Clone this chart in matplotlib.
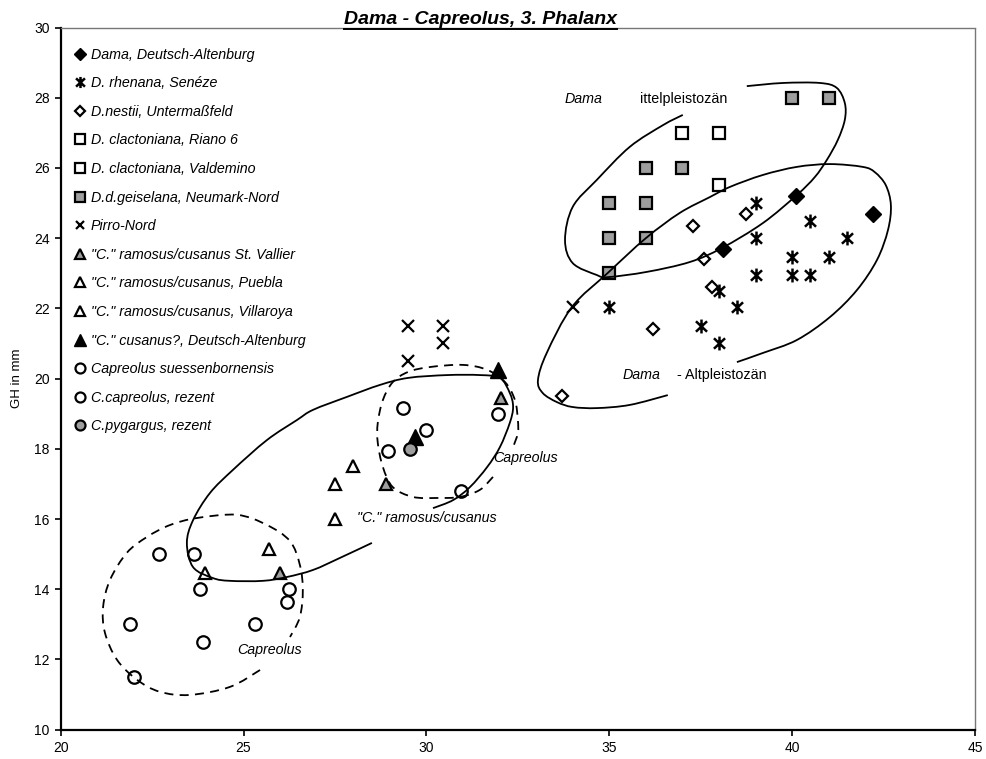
import numpy as np
import matplotlib
matplotlib.use("Agg")
import matplotlib.pyplot as plt
from matplotlib.path import Path
from matplotlib.patches import PathPatch
from matplotlib.lines import Line2D

plt.rcParams['font.family'] = ['Liberation Sans', 'DejaVu Sans']

# ---------------- data ----------------
dama_da_x = [40.1, 38.1, 42.2]
dama_da_y = [25.2, 23.7, 24.7]
rhenana_x = [39.0, 40.5, 41.5, 39.0, 40.0, 41.0, 39.0, 40.0, 40.5, 38.0, 35.0, 38.5, 37.5, 38.0]
rhenana_y = [25.0, 24.5, 24.0, 24.0, 23.45, 23.45, 22.95, 22.95, 22.95, 22.5, 22.05, 22.05, 21.5, 21.0]
nestii_x = [38.75, 37.3, 37.6, 37.8, 36.2, 33.7]
nestii_y = [24.7, 24.35, 23.4, 22.6, 21.4, 19.5]
riano_x = [37, 38]
riano_y = [27, 27]
valdemino_x = [38]
valdemino_y = [25.5]
geiselana_x = [40, 41, 36, 37, 35, 36, 35, 36, 35]
geiselana_y = [28, 28, 26, 26, 25, 25, 24, 24, 23]
pirro_x = [29.5, 30.45, 30.45, 29.5, 34.0]
pirro_y = [21.5, 21.5, 21.0, 20.5, 22.05]
stvallier_x = [32.05, 28.9, 26.0]
stvallier_y = [19.45, 17.0, 14.45]
puebla_x = [28.0, 27.5, 27.5]
puebla_y = [17.5, 17.0, 16.0]
villaroya_x = [25.7, 23.95]
villaroya_y = [15.15, 14.45]
cusanus_x = [31.95, 29.7]
cusanus_y = [20.25, 18.35]
suess_x = [29.35, 30.0, 28.95, 31.95, 30.95]
suess_y = [19.15, 18.55, 17.95, 19.0, 16.8]
capreolus_x = [22.7, 23.65, 23.8, 26.25, 26.2, 21.9, 25.3, 23.9, 22.0]
capreolus_y = [15.0, 15.0, 14.0, 14.0, 13.65, 13.0, 13.0, 12.5, 11.5]
pygargus_x = [29.55]
pygargus_y = [18.0]

legend_labels = ["Dama, Deutsch-Altenburg", "D. rhenana, Senéze", "D.nestii, Untermaßfeld",
                 "D. clactoniana, Riano 6", "D. clactoniana, Valdemino",
                 "D.d.geiselana, Neumark-Nord", "Pirro-Nord",
                 "\"C.\" ramosus/cusanus St. Vallier", "\"C.\" ramosus/cusanus, Puebla",
                 "\"C.\" ramosus/cusanus, Villaroya", "\"C.\" cusanus?, Deutsch-Altenburg",
                 "Capreolus suessenbornensis", "C.capreolus, rezent", "C.pygargus, rezent"]

# hand-drawn group outlines (data coordinates)
mittel_outline = [(37.01, 27.51), (36.47, 27.22), (35.56, 26.60), (34.66, 25.66), (34.00, 24.89),
                  (33.79, 23.95), (34.00, 23.29), (34.66, 22.95), (34.96, 22.89), (36.03, 23.04),
                  (37.20, 23.32), (38.08, 23.72), (39.20, 24.43), (40.13, 25.23), (40.62, 25.74),
                  (40.95, 26.23), (41.25, 26.80), (41.44, 27.37), (41.44, 27.85), (41.22, 28.28),
                  (40.76, 28.42), (39.75, 28.42), (38.76, 28.33)]
alt_outline = [(38.49, 20.47), (39.20, 20.73), (40.13, 21.10), (41.03, 21.75), (41.77, 22.52),
               (42.32, 23.38), (42.62, 24.23), (42.70, 24.94), (42.56, 25.51), (42.26, 25.88),
               (41.93, 26.03), (41.03, 26.11), (40.13, 26.03), (39.20, 25.80), (38.30, 25.46),
               (37.75, 25.17), (36.93, 24.72), (36.00, 24.00), (34.96, 23.01), (33.98, 22.04),
               (33.29, 20.73), (33.05, 19.96), (33.18, 19.59), (33.57, 19.33), (34.00, 19.19),
               (34.66, 19.16), (35.56, 19.25), (36.60, 19.53)]
ramosus_outline = [(30.18, 16.31), (30.73, 16.54), (31.19, 16.91), (31.66, 17.48), (32.01, 18.05),
                   (32.28, 18.74), (32.37, 19.19), (32.28, 19.59), (32.01, 20.02), (31.47, 20.10),
                   (30.56, 20.10), (29.50, 20.02), (28.73, 19.82), (27.83, 19.48), (26.90, 19.11),
                   (26.46, 18.82), (25.64, 18.25), (24.71, 17.40), (24.08, 16.74), (23.62, 15.97),
                   (23.45, 15.32), (23.62, 14.63), (24.16, 14.32), (24.63, 14.24), (25.53, 14.24),
                   (26.19, 14.35), (26.90, 14.55), (27.63, 14.89), (28.51, 15.32)]
capreolus_up_outline = [(31.82, 17.20), (31.46, 16.83), (30.92, 16.63), (30.29, 16.60), (29.63, 16.63),
                        (29.08, 16.91), (28.81, 17.48), (28.67, 18.17), (28.67, 18.74), (28.81, 19.39),
                        (29.08, 19.90), (29.50, 20.19), (30.10, 20.33), (31.00, 20.39), (31.66, 20.25),
                        (32.15, 19.90), (32.42, 19.39), (32.50, 18.82), (32.50, 18.45), (32.37, 18.05)]
capreolus_low_outline = [(25.45, 11.70), (24.63, 11.22), (23.53, 10.99), (22.71, 11.08), (22.09, 11.42),
                         (21.54, 11.99), (21.21, 12.76), (21.16, 13.50), (21.35, 14.27), (21.81, 15.04),
                         (22.36, 15.49), (22.99, 15.83), (23.73, 16.03), (24.82, 16.12), (25.64, 15.83),
                         (26.27, 15.37), (26.54, 14.69), (26.62, 13.98), (26.54, 13.21), (26.27, 12.64)]

# ---------------- figure ----------------
fig = plt.figure(figsize=(9.86, 7.59), dpi=100)
ax = fig.add_axes([60.7 / 986, 1 - 729.7 / 759, (975 - 60.7) / 986, (729.7 - 27.5) / 759])
ax.set_xlim(20, 45)
ax.set_ylim(10, 30)
ax.set_xticks(range(20, 46, 5))
ax.set_yticks(range(10, 31, 2))
ax.tick_params(direction='out', length=4, width=1.2, labelsize=10, top=False, right=False, pad=4)
for s in ['left', 'bottom']:
    ax.spines[s].set_linewidth(1.6)
    ax.spines[s].set_color('black')
for s in ['top', 'right']:
    ax.spines[s].set_linewidth(1.0)
    ax.spines[s].set_color('#777777')
    ax.spines[s].set_linestyle((0, (1, 1)))
ax.set_ylabel("GH in mm", fontsize=9.5, labelpad=8)

ast = Path([(0, -1), (0, 1), (-0.8, -0.75), (0.8, 0.75), (-0.8, 0.75), (0.8, -0.75)],
           [Path.MOVETO, Path.LINETO, Path.MOVETO, Path.LINETO, Path.MOVETO, Path.LINETO])

grey = '#9e9e9e'
mew = 1.6
series = [
    (dama_da_x, dama_da_y, dict(marker='D', ms=8, mfc='black', mec='black', mew=1)),
    (rhenana_x, rhenana_y, dict(marker=ast, ms=10, mfc='none', mec='black', mew=1.8)),
    (nestii_x, nestii_y, dict(marker='D', ms=6.5, mfc='white', mec='black', mew=mew)),
    (riano_x, riano_y, dict(marker='s', ms=9, mfc='white', mec='black', mew=mew)),
    (valdemino_x, valdemino_y, dict(marker='s', ms=9, mfc='white', mec='black', mew=mew)),
    (geiselana_x, geiselana_y, dict(marker='s', ms=9, mfc=grey, mec='black', mew=mew)),
    (pirro_x, pirro_y, dict(marker='x', ms=8, mfc='none', mec='black', mew=1.6)),
    (stvallier_x, stvallier_y, dict(marker='^', ms=9, mfc=grey, mec='black', mew=mew)),
    (puebla_x, puebla_y, dict(marker='^', ms=9, mfc='white', mec='black', mew=mew)),
    (villaroya_x, villaroya_y, dict(marker='^', ms=9, mfc='white', mec='black', mew=mew)),
    (cusanus_x, cusanus_y, dict(marker='^', ms=11, mfc='black', mec='black', mew=1)),
    (suess_x, suess_y, dict(marker='o', ms=9, mfc='white', mec='black', mew=mew)),
    (capreolus_x, capreolus_y, dict(marker='o', ms=9, mfc='white', mec='black', mew=mew)),
    (pygargus_x, pygargus_y, dict(marker='o', ms=9, mfc=grey, mec='black', mew=mew)),
]
handles = []
for (xs, ys, st), lab in zip(series, legend_labels):
    h, = ax.plot(xs, ys, ls='none', zorder=3, label=lab, **st)
    handles.append(h)

leg = ax.legend(handles, legend_labels, loc='upper left', bbox_to_anchor=(0.0135, 0.9713),
                frameon=False, borderpad=0, borderaxespad=0, handlelength=1.0,
                handletextpad=0.25, labelspacing=1.02, markerscale=0.8,
                prop=dict(style='italic', size=10.3))


def smooth_path(pts, closed=False):
    p = np.asarray(pts, float)
    if closed:
        p = np.vstack([p[-1], p, p[0], p[1]])
    else:
        p = np.vstack([p[0], p, p[-1]])
    verts = [tuple(p[1])]
    codes = [Path.MOVETO]
    for i in range(1, len(p) - 2):
        p0, p1, p2, p3 = p[i - 1], p[i], p[i + 1], p[i + 2]
        c1 = p1 + (p2 - p0) / 6.0
        c2 = p2 - (p3 - p1) / 6.0
        verts += [tuple(c1), tuple(c2), tuple(p2)]
        codes += [Path.CURVE4] * 3
    return Path(verts, codes)


for pts, ls in [(mittel_outline, '-'), (alt_outline, '-'), (ramosus_outline, '-'),
                (capreolus_up_outline, (0, (5, 3.5))), (capreolus_low_outline, (0, (5, 3.5)))]:
    ax.add_patch(PathPatch(smooth_path(pts), fill=False, lw=1.3, ls=ls, ec='black', zorder=4,
                           capstyle='butt'))

fs = 10.3
ax.text(33.79, 27.95, "Dama", style='italic', fontsize=fs, va='center')
ax.text(35.84, 27.95, "ittelpleistozän", fontsize=fs, va='center')
ax.text(35.37, 20.1, "Dama", style='italic', fontsize=fs, va='center')
ax.text(36.85, 20.1, "- Altpleistozän", fontsize=fs, va='center')
ax.text(24.82, 12.27, "Capreolus", style='italic', fontsize=fs, va='center')
ax.text(31.82, 17.73, "Capreolus", style='italic', fontsize=fs, va='center')
ax.text(28.1, 16.03, "\"C.\" ramosus/cusanus", style='italic', fontsize=fs, va='center')

title = fig.text(480 / 986, 1 - 24 / 759, "Dama - Capreolus, 3. Phalanx", ha='center',
                 va='baseline', fontsize=14, fontweight='bold', style='italic')
fig.canvas.draw()
bb = title.get_window_extent()
fig.add_artist(Line2D([bb.x0 / fig.bbox.width, bb.x1 / fig.bbox.width],
                      [(bb.y0 - 0.5) / fig.bbox.height] * 2, color='black', lw=1.4,
                      transform=fig.transFigure))

fig.savefig("out.png", dpi=100)
